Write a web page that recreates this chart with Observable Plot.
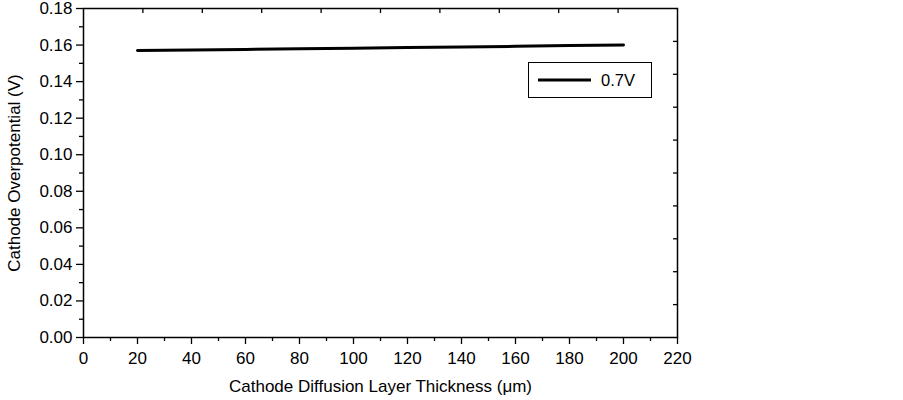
<!DOCTYPE html>
<html>
<head>
<meta charset="utf-8">
<script src="https://cdn.jsdelivr.net/npm/d3@7"></script>
<script src="https://cdn.jsdelivr.net/npm/@observablehq/plot@0.6"></script>
<style>
  html, body { margin: 0; padding: 0; background: #fff; }
  #wrap { position: relative; width: 903px; height: 400px; font-family: "Liberation Sans", Arial, sans-serif; }
  #legend { position: absolute; left: 528px; top: 62px; width: 122px; height: 34px; border: 1.3px solid #000; background: #fff; display: flex; align-items: center; font-size: 16.5px; }
  #legend svg { margin-left: 9px; margin-right: 10px; }
</style>
</head>
<body>
<div id="wrap"><div id="legend"><svg width="53" height="6"><line x1="0" x2="53" y1="3" y2="3" stroke="#000" stroke-width="3"/></svg><span>0.7V</span></div></div>
<script>
const thickness = [20, 40, 60, 80, 100, 120, 140, 160, 180, 200];
const overpotential = [0.1570, 0.1573, 0.1576, 0.1580, 0.1583, 0.1586, 0.1590, 0.1593, 0.1597, 0.1600];
const seriesName = "0.7V";
const xMajor = [0, 20, 40, 60, 80, 100, 120, 140, 160, 180, 200, 220];
const xMinor = [10, 30, 50, 70, 90, 110, 130, 150, 170, 190, 210];
const yMajor = [0, 0.02, 0.04, 0.06, 0.08, 0.10, 0.12, 0.14, 0.16, 0.18];
const yMinor = [0.01, 0.03, 0.05, 0.07, 0.09, 0.11, 0.13, 0.15, 0.17];
const xTop = [22, 44, 66, 88, 110, 132, 154, 176, 198];
const yRight = [0.018, 0.036, 0.054, 0.072, 0.090, 0.108, 0.126, 0.144, 0.162];

const data = thickness.map((t, i) => ({t, v: overpotential[i], s: seriesName}));
const blank = () => "";

const chart = Plot.plot({
  width: 903,
  height: 400,
  marginLeft: 83,
  marginRight: 226,
  marginTop: 8,
  marginBottom: 63,
  style: {fontFamily: "Liberation Sans, Arial, sans-serif", fontSize: "16.5px", color: "#000", background: "#fff"},
  x: {domain: [0, 220]},
  y: {domain: [0, 0.18]},
  marks: [
    Plot.axisX({ticks: xMajor, tickSize: 7, tickPadding: 7, strokeWidth: 1.3, tickFormat: d3.format("d"), fontSize: 17,
      label: "Cathode Diffusion Layer Thickness (μm)", labelAnchor: "center", labelArrow: "none", labelOffset: 54}),
    Plot.axisX({ticks: xMinor, tickSize: 4, strokeWidth: 1.3, tickFormat: blank, label: null}),
    Plot.axisX({anchor: "top", ticks: xTop, tickSize: -4, strokeWidth: 1.3, tickFormat: blank, label: null}),
    Plot.axisY({ticks: yMajor, tickSize: 7, tickPadding: 4, strokeWidth: 1.3, tickFormat: d3.format(".2f"), fontSize: 17,
      label: "Cathode Overpotential (V)", labelAnchor: "center", labelArrow: "none", labelOffset: 76}),
    Plot.axisY({ticks: yMinor, tickSize: 4, strokeWidth: 1.3, tickFormat: blank, label: null}),
    Plot.axisY({anchor: "right", ticks: yRight, tickSize: -5, strokeWidth: 1.3, tickFormat: blank, label: null}),
    Plot.frame({stroke: "#000", strokeWidth: 1.5}),
    Plot.line(data, {x: "t", y: "v", stroke: "#000", strokeWidth: 3})
  ]
});
document.getElementById("wrap").prepend(chart);
</script>
</body>
</html>
